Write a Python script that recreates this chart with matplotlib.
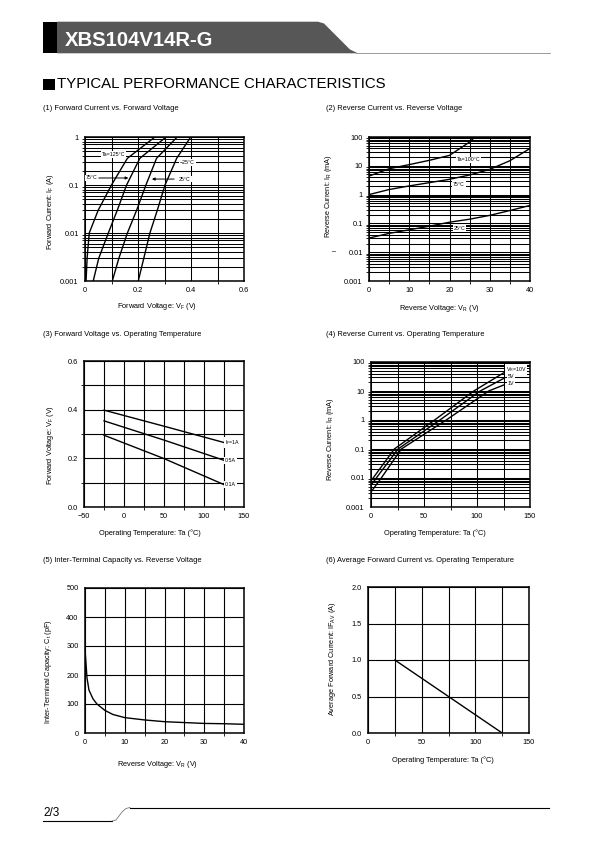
import matplotlib
matplotlib.use("Agg")
import matplotlib.pyplot as plt
from matplotlib.ticker import LogLocator, NullFormatter, MultipleLocator
from matplotlib.patches import Polygon, Rectangle

plt.rcParams['font.family'] = ['Liberation Sans', 'DejaVu Sans']
plt.rcParams['mathtext.fontset'] = 'custom'
plt.rcParams['mathtext.rm'] = 'Liberation Sans'
plt.rcParams['mathtext.it'] = 'Liberation Sans:italic'
plt.rcParams['mathtext.bf'] = 'Liberation Sans:bold'
plt.rcParams['mathtext.default'] = 'regular'

# ---------------- data ----------------
# (1) Forward current vs forward voltage
if_levels = [0.001, 0.003, 0.01, 0.03, 0.1, 0.36, 1.0]
vf_125 = [0.004, 0.008, 0.016, 0.050, 0.100, 0.160, 0.264]
vf_75 = [0.031, 0.052, 0.088, 0.122, 0.157, 0.207, 0.306]
vf_25 = [0.103, 0.128, 0.160, 0.195, 0.230, 0.270, 0.348]
vf_m25 = [0.201, 0.222, 0.245, 0.273, 0.302, 0.346, 0.399]

# (2) Reverse current vs reverse voltage
vr_100 = [0, 5, 10, 15, 20, 22.6, 25, 26.3]
ir_100 = [4.4, 7.9, 11, 15.5, 23, 40, 67, 100]
vr_75 = [0, 5, 10, 15, 20, 25, 30, 35, 40]
ir_75 = [1.0, 1.5, 2.0, 2.6, 3.4, 4.8, 7.5, 15, 40]
vr_25 = [0, 5, 10, 15, 20, 25, 30, 35, 40]
ir_25 = [0.031, 0.045, 0.06, 0.08, 0.11, 0.14, 0.19, 0.28, 0.42]

# (3) Forward voltage vs operating temperature
ta3 = [-25, 50, 125]
vf_1a = [0.398, 0.332, 0.265]
vf_05a = [0.354, 0.275, 0.192]
vf_01a = [0.295, 0.199, 0.092]

# (4) Reverse current vs operating temperature
ta_10v = [0, 2, 22, 60, 97, 125]
ir_10v = [0.008, 0.01, 0.1, 1, 10, 42]
ta_5v = [0, 5, 25.5, 65, 103, 125]
ir_5v = [0.0056, 0.01, 0.1, 1, 10, 27]
ta_1v = [0, 9.7, 28.6, 71, 111, 125]
ir_1v = [0.0033, 0.01, 0.1, 1, 10, 16]

# (5) Inter-terminal capacity vs reverse voltage
vr5 = [0.1, 0.5, 1, 2, 3, 5, 7, 10, 15, 20, 25, 30, 35, 40]
ct5 = [270, 190, 148, 118, 100, 78, 64, 53, 45, 39, 36, 33, 32, 30]

# (6) Average forward current vs operating temperature
ta6 = [25, 125]
iav6 = [1.0, 0.0]

# ---------------- figure ----------------
W, H = 595, 842
fig = plt.figure(figsize=(W / 100, H / 100), dpi=100)

bg = fig.add_axes([0, 0, 1, 1])
bg.set_xlim(0, W)
bg.set_ylim(H, 0)
bg.axis('off')

# header
bg.add_patch(Rectangle((43, 21.7), 14, 31.6, color='black', lw=0))
bg.add_patch(Polygon([(57, 21.7), (318, 21.7), (324, 23.5), (350, 49.5), (358, 53.3), (57, 53.3)],
                     closed=True, color='#575757', lw=0))
bg.plot([356, 550], [53.0, 53.0], color='#8a8a8a', lw=0.6)
bg.text(65, 40, 'XBS104V14R-G', color='white', fontsize=14.6, fontweight='bold',
        va='center', ha='left')

# section title
bg.add_patch(Rectangle((43, 78.5), 12, 11.5, color='black', lw=0))
bg.text(57, 84.5, 'TYPICAL PERFORMANCE CHARACTERISTICS', fontsize=10.8, va='center', ha='left')

# subtitles
sub_fs = 5.4
bg.text(43, 109, '(1) Forward Current vs. Forward Voltage', fontsize=sub_fs, va='center')
bg.text(326, 109, '(2) Reverse Current vs. Reverse Voltage', fontsize=sub_fs, va='center')
bg.text(43, 335, '(3) Forward Voltage vs. Operating Temperature', fontsize=sub_fs, va='center')
bg.text(326, 335, '(4) Reverse Current vs. Operating Temperature', fontsize=sub_fs, va='center')
bg.text(43, 560, '(5) Inter-Terminal Capacity vs. Reverse Voltage', fontsize=sub_fs, va='center')
bg.text(326, 560, '(6) Average Forward Current vs. Operating Temperature', fontsize=sub_fs, va='center')

# footer
bg.text(43, 813.5, '2/3', fontsize=8.5, va='center', ha='left')
bg.plot([43, 112], [821, 821], color='black', lw=0.8)
bg.plot([112, 116, 119, 122, 126, 130], [821, 820, 816, 812, 808.5, 807.5], color='#777777', lw=0.6)
bg.plot([130, 549], [807.5, 807.5], color='black', lw=0.8)
bg.plot([332, 335], [251, 251], color='#555555', lw=0.6)

lab_fs = 5.3
tick_fs = 5.3


def make_ax(l, r, t, b):
    ax = fig.add_axes([l / W, 1 - b / H, (r - l) / W, (b - t) / H])
    ax.tick_params(length=0, labelsize=tick_fs, pad=4.5)
    for s in ax.spines.values():
        s.set_linewidth(1.1)
        s.set_color('black')
    ax.set_axisbelow(True)
    return ax


def grid_lin(ax):
    ax.grid(True, which='both', color='black', lw=0.8)


def grid_log(ax):
    ax.yaxis.set_minor_locator(LogLocator(base=10, subs=range(2, 10)))
    ax.yaxis.set_minor_formatter(NullFormatter())
    ax.grid(True, which='both', color='black', lw=0.75)


def xlab(x, y, s):
    bg.text(x, y, s, fontsize=lab_fs, ha='center', va='center')


def ylab(x, y, s):
    bg.text(x, y, s, fontsize=lab_fs, ha='center', va='center', rotation=90)


line_kw = dict(color='black', lw=1.0)
box = dict(facecolor='white', edgecolor='none', pad=0.6)
ann_fs = 3.8

# (1)
ax1 = make_ax(85, 244, 137, 281)
ax1.set_yscale('log')
ax1.set_xlim(0, 0.6)
ax1.set_ylim(0.001, 1)
ax1.set_xticks([0, 0.2, 0.4, 0.6], labels=['0', '0.2', '0.4', '0.6'])
ax1.xaxis.set_minor_locator(MultipleLocator(0.1))
ax1.set_yticks([0.001, 0.01, 0.1, 1], labels=['0.001', '0.01', '0.1', '1'])
grid_log(ax1)
for vf in (vf_125, vf_75, vf_25, vf_m25):
    ax1.plot(vf, if_levels, **line_kw)
ax1.text(0.1075, 0.43, 'Ta=125°C', fontsize=ann_fs, ha='center', va='center', bbox=box)
ax1.text(0.387, 0.29, '−25°C', fontsize=ann_fs, ha='center', va='center', bbox=box)
ax1.text(0.0245, 0.14, '75°C', fontsize=ann_fs, ha='center', va='center', bbox=box)
ax1.text(0.377, 0.133, '25°C', fontsize=ann_fs, ha='center', va='center', bbox=box)
ax1.annotate('', xy=(0.174, 0.14), xytext=(0.0415, 0.14),
             arrowprops=dict(arrowstyle='-|>', color='black', lw=0.7, mutation_scale=4))
ax1.annotate('', xy=(0.242, 0.133), xytext=(0.347, 0.133),
             arrowprops=dict(arrowstyle='-|>', color='black', lw=0.7, mutation_scale=4))
xlab(157, 307, 'Forward Voltage: V$_F$ (V)')
ylab(50, 212, 'Forward Current: I$_F$ (A)')

# (2)
ax2 = make_ax(369, 530, 137, 281)
ax2.set_yscale('log')
ax2.set_xlim(0, 40)
ax2.set_ylim(0.001, 100)
ax2.set_xticks([0, 10, 20, 30, 40])
ax2.xaxis.set_minor_locator(MultipleLocator(5))
ax2.set_yticks([0.001, 0.01, 0.1, 1, 10, 100], labels=['0.001', '0.01', '0.1', '1', '10', '100'])
grid_log(ax2)
ax2.plot(vr_100, ir_100, **line_kw)
ax2.plot(vr_75, ir_75, **line_kw)
ax2.plot(vr_25, ir_25, **line_kw)
ax2.text(24.8, 16, 'Ta=100°C', fontsize=ann_fs, ha='center', va='center', bbox=box)
ax2.text(22.4, 2.3, '75°C', fontsize=ann_fs, ha='center', va='center', bbox=box)
ax2.text(22.5, 0.068, '25°C', fontsize=ann_fs, ha='center', va='center', bbox=box)
xlab(440, 308, 'Reverse Voltage: V$_R$ (V)')
ylab(328, 196, 'Reverse Current: I$_R$ (mA)')

# (3)
ax3 = make_ax(84, 244, 361, 507)
ax3.set_xlim(-50, 150)
ax3.set_ylim(0, 0.6)
ax3.set_xticks([-50, 0, 50, 100, 150], labels=['−50', '0', '50', '100', '150'])
ax3.xaxis.set_minor_locator(MultipleLocator(25))
ax3.set_yticks([0, 0.2, 0.4, 0.6], labels=['0.0', '0.2', '0.4', '0.6'])
ax3.yaxis.set_minor_locator(MultipleLocator(0.1))
grid_lin(ax3)
ax3.plot(ta3, vf_1a, **line_kw)
ax3.plot(ta3, vf_05a, **line_kw)
ax3.plot(ta3, vf_01a, **line_kw)
ax3.text(126.5, 0.265, 'I$_F$=1A', fontsize=ann_fs, ha='left', va='center', bbox=box)
ax3.text(126.5, 0.192, '0.5A', fontsize=ann_fs, ha='left', va='center', bbox=box)
ax3.text(126.5, 0.092, '0.1A', fontsize=ann_fs, ha='left', va='center', bbox=box)
xlab(150, 533, 'Operating Temperature: Ta (°C)')
ylab(50, 445, 'Forward Voltage: V$_F$ (V)')

# (4)
ax4 = make_ax(371, 530, 362, 507)
ax4.set_yscale('log')
ax4.set_xlim(0, 150)
ax4.set_ylim(0.001, 100)
ax4.set_xticks([0, 50, 100, 150])
ax4.xaxis.set_minor_locator(MultipleLocator(25))
ax4.set_yticks([0.001, 0.01, 0.1, 1, 10, 100], labels=['0.001', '0.01', '0.1', '1', '10', '100'])
grid_log(ax4)
ax4.plot(ta_10v, ir_10v, **line_kw)
ax4.plot(ta_5v, ir_5v, **line_kw)
ax4.plot(ta_1v, ir_1v, **line_kw)
ax4.text(127, 54, 'V$_R$=10V', fontsize=ann_fs, ha='left', va='center', bbox=box)
ax4.text(129, 31, '5V', fontsize=ann_fs, ha='left', va='center', bbox=box)
ax4.text(129, 17.5, '1V', fontsize=ann_fs, ha='left', va='center', bbox=box)
xlab(435, 533, 'Operating Temperature: Ta (°C)')
ylab(331, 439, 'Reverse Current: I$_R$ (mA)')

# (5)
ax5 = make_ax(85, 244, 588, 733)
ax5.set_xlim(0, 40)
ax5.set_ylim(0, 500)
ax5.set_xticks([0, 10, 20, 30, 40])
ax5.xaxis.set_minor_locator(MultipleLocator(5))
ax5.set_yticks([0, 100, 200, 300, 400, 500])
grid_lin(ax5)
ax5.plot(vr5, ct5, **line_kw)
xlab(158, 764, 'Reverse Voltage: V$_R$ (V)')
ylab(48, 672, 'Inter-Terminal Capacity: C$_t$ (pF)')

# (6)
ax6 = make_ax(368, 529, 587, 733)
ax6.set_xlim(0, 150)
ax6.set_ylim(0, 2.0)
ax6.set_xticks([0, 50, 100, 150])
ax6.xaxis.set_minor_locator(MultipleLocator(25))
ax6.set_yticks([0, 0.5, 1.0, 1.5, 2.0], labels=['0.0', '0.5', '1.0', '1.5', '2.0'])
grid_lin(ax6)
ax6.plot(ta6, iav6, **line_kw)
xlab(443, 760, 'Operating Temperature: Ta (°C)')
ylab(333, 659, 'Average Forward Current: IF$_{AV}$ (A)')

fig.savefig('out.png', dpi=100)
